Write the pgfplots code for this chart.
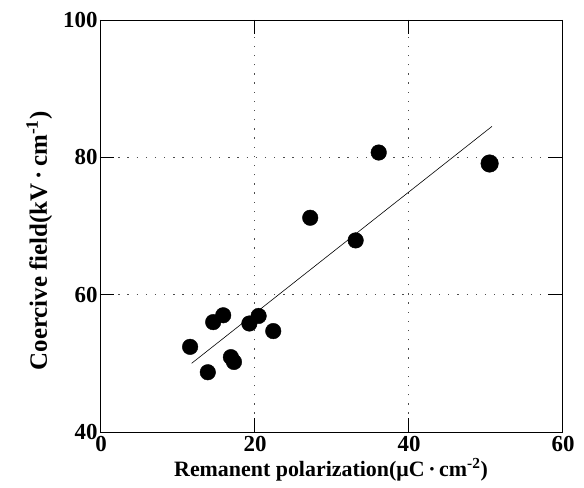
\documentclass[border=0pt]{standalone}
\usepackage{pgfplots}
\pgfplotsset{compat=1.18}
\usepackage{fontspec}
\setmainfont{Liberation Serif}
\begin{document}
\begin{tikzpicture}[x=1bp,y=1bp]
\path[use as bounding box] (-100,-56) rectangle (484,432);
\begin{axis}[
  at={(0,0)}, anchor=origin,
  scale only axis,
  width=462bp, height=412bp,
  xmin=0, xmax=60, ymin=40, ymax=100,
  xtick={0,20,40,60}, ytick={40,60,80,100},
  tick align=inside,
  major tick length=14bp,
  axis line style={line width=0.9pt},
  tick style={line width=0.6pt, black},
  ymajorgrids, xmajorgrids,
  major grid style={black!70, line width=0.5pt, dash pattern=on 1.2pt off 8pt},
  /pgf/number format/assume math mode=true,
  ticklabel style={font=\bfseries\fontsize{23}{23}\selectfont},
  xticklabel style={yshift=-1bp, xshift=1bp},
  yticklabel style={xshift=1bp},
  xlabel={\bfseries Remanent polarization(μC\,·\,cm\textsuperscript{-2})},
  ylabel={\bfseries Coercive field(kV\,·\,cm\textsuperscript{-1})},
  xlabel style={font=\bfseries\fontsize{22}{24}\selectfont, yshift=0bp},
  ylabel style={font=\bfseries\fontsize{25}{27}\selectfont, yshift=4bp, xshift=-15bp},
  clip=false,
]
\addplot[black, line width=0.6pt, no markers] coordinates {(11.9,50.0) (50.9,84.5)};
\addplot[only marks, mark=*, mark size=7.8bp, black] coordinates {
(11.7,52.4) (14.7,56.0) (16.0,57.0) (14.0,48.7) (17.0,50.9) (17.4,50.2)
(19.4,55.8) (20.6,56.9) (22.5,54.7) (27.3,71.2) (33.2,67.9) (36.2,80.7)
};
\addplot[only marks, mark=*, mark size=8.8bp, black] coordinates {(50.6,79.1)};
\end{axis}
\end{tikzpicture}
\end{document}
